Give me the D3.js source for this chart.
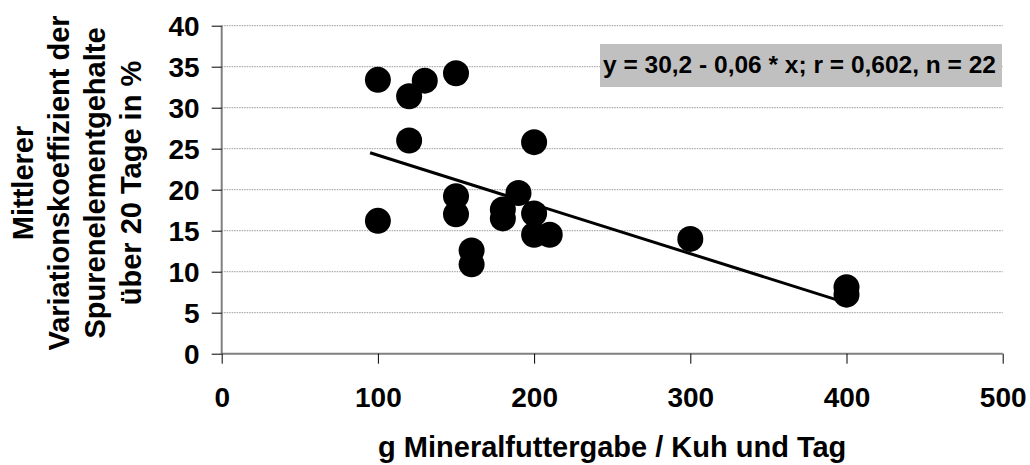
<!DOCTYPE html>
<html>
<head>
<meta charset="utf-8">
<script src="https://cdn.jsdelivr.net/npm/d3@7"></script>
<style>
  html, body { margin: 0; padding: 0; background: #fff; }
  svg { display: block; font-family: "Liberation Sans", Arial, sans-serif; font-weight: bold; }
</style>
</head>
<body>
<svg id="chart" width="1030" height="465"></svg>
<script>
// Mineral feed per cow and day (g) vs. mean coefficient of variation (%)
const feedGrams = [100, 100, 120, 120, 130, 150, 150, 150, 160, 160, 180, 180, 190, 200, 200, 200, 210, 300, 400, 400];
const variationCoeff = [33.4, 16.2, 31.4, 26.0, 33.3, 34.2, 19.2, 17.0, 12.6, 10.9, 17.6, 16.5, 19.6, 25.8, 17.1, 14.5, 14.5, 14.0, 8.1, 7.2];

// Regression y = a + b * x, drawn over the observed feed range
const intercept = 30.2;
const slope = -0.06;
const fitRange = [95, 400];

const xTicks = [0, 100, 200, 300, 400, 500];
const yTicks = [0, 5, 10, 15, 20, 25, 30, 35, 40];

const xTitle = "g Mineralfuttergabe / Kuh und Tag";
const yTitleLines = ["Mittlerer", "Variationskoeffizient der", "Spurenelementgehalte", "über 20 Tage in %"];
const equationLabel = "y = 30,2 - 0,06 * x; r = 0,602, n = 22";

const svg = d3.select("#chart");
const plotLeft = 221.7, plotRight = 1002.7, plotTop = 25.7, plotBottom = 353.7;
const fontFamily = "'Liberation Sans', Arial, sans-serif";

const x = d3.scaleLinear().domain([0, 500]).range([plotLeft, plotRight]);
const y = d3.scaleLinear().domain([0, 40]).range([plotBottom, plotTop]);

// Dotted horizontal gridlines
svg.append("g")
  .selectAll("line")
  .data(yTicks.filter(t => t > 0))
  .join("line")
  .attr("x1", plotLeft).attr("x2", plotRight)
  .attr("y1", d => y(d)).attr("y2", d => y(d))
  .attr("stroke", "#999")
  .attr("stroke-width", 1)
  .attr("stroke-dasharray", "1.5,1");

// Y axis
const yAxis = svg.append("g")
  .attr("transform", `translate(${plotLeft},0)`)
  .call(d3.axisLeft(y).tickValues(yTicks).tickSize(10).tickPadding(12).tickFormat(d3.format("d")));
yAxis.select(".domain").attr("stroke", "#808080").attr("stroke-width", 2).attr("d", `M0,${plotBottom + 0.5}V${plotTop}`);
yAxis.selectAll(".tick line").attr("stroke", "#000");
yAxis.selectAll(".tick text")
  .attr("font-size", 28).attr("font-weight", "bold").attr("fill", "#000")
  .attr("font-family", fontFamily)
  .attr("dy", "0.36em");

// X axis
const xAxis = svg.append("g")
  .attr("transform", `translate(0,${plotBottom})`)
  .call(d3.axisBottom(x).tickValues(xTicks).tickSize(10).tickPadding(23).tickFormat(d3.format("d")));
xAxis.select(".domain").attr("stroke", "#808080").attr("stroke-width", 2).attr("d", `M${plotLeft},0H${plotRight}`);
xAxis.selectAll(".tick line").attr("stroke", "#000");
xAxis.selectAll(".tick text")
  .attr("font-size", 28).attr("font-weight", "bold").attr("fill", "#000")
  .attr("font-family", fontFamily);

// Regression line
const fit = d3.line().x(d => x(d)).y(d => y(intercept + slope * d));
svg.append("path")
  .datum(fitRange)
  .attr("d", fit)
  .attr("fill", "none")
  .attr("stroke", "#000")
  .attr("stroke-width", 3);

// Data points
svg.append("g")
  .selectAll("circle")
  .data(feedGrams.map((g, i) => [g, variationCoeff[i]]))
  .join("circle")
  .attr("cx", d => x(d[0]))
  .attr("cy", d => y(d[1]))
  .attr("r", 13)
  .attr("fill", "#000");

// Equation box
const eqG = svg.append("g");
eqG.append("rect")
  .attr("x", 600).attr("y", 44).attr("width", 402).attr("height", 43)
  .attr("fill", "#c0c0c0");
eqG.append("text")
  .attr("x", 603).attr("y", 73)
  .attr("font-size", 24.5)
  .attr("fill", "#000")
  .text(equationLabel);

// Axis titles
svg.append("text")
  .attr("x", (plotLeft + plotRight) / 2).attr("y", 457)
  .attr("text-anchor", "middle")
  .attr("font-size", 29)
  .attr("fill", "#000")
  .text(xTitle);

const yTitle = svg.append("text")
  .attr("transform", "translate(0,183) rotate(-90)")
  .attr("text-anchor", "middle")
  .attr("font-size", 29)
  .attr("fill", "#000");
yTitle.selectAll("tspan")
  .data(yTitleLines)
  .join("tspan")
  .attr("x", 0)
  .attr("y", (d, i) => 33 + i * 36)
  .text(d => d);
</script>
</body>
</html>
